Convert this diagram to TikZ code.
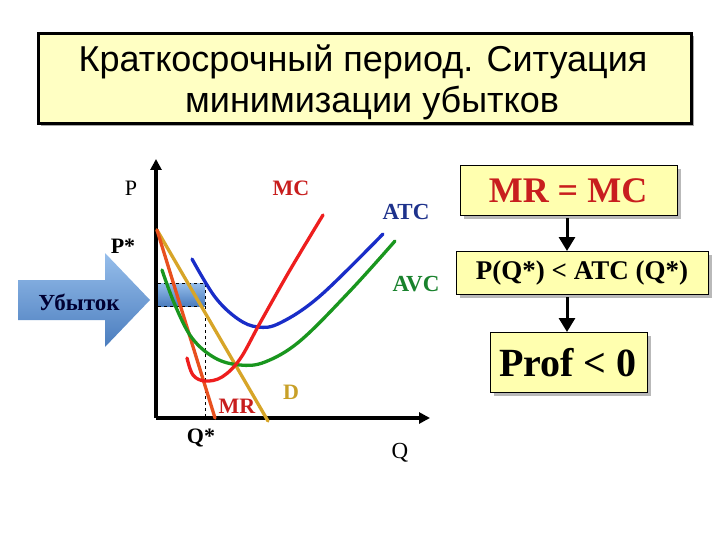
\documentclass[tikz,border=0pt]{standalone}
\usepackage{fontspec}
\setmainfont{Liberation Serif}
\newfontfamily\titlefont{Liberation Sans}
\usetikzlibrary{arrows.meta,calc}
\definecolor{boxyellow}{RGB}{255,255,175}
\definecolor{titleyellow}{RGB}{255,255,195}
\definecolor{dcol}{RGB}{215,165,40}
\definecolor{mrcol}{RGB}{232,80,30}
\definecolor{mccol}{RGB}{238,30,30}
\definecolor{atccol}{RGB}{25,45,200}
\definecolor{avccol}{RGB}{25,150,30}
\definecolor{mclab}{RGB}{200,30,30}
\definecolor{atclab}{RGB}{30,50,140}
\definecolor{avclab}{RGB}{25,130,45}
\definecolor{dlab}{RGB}{200,160,40}
\definecolor{arrlight}{RGB}{150,190,235}
\definecolor{arrdark}{RGB}{75,125,190}
\tikzset{
  fbox/.style={draw=black, line width=0.8pt, fill=boxyellow, inner sep=0pt, anchor=north west},
  curve/.style={line width=3.3pt, line cap=round},
  lab/.style={inner sep=0pt, font=\fontsize{22}{24}\selectfont},
  blab/.style={inner sep=0pt, font=\fontsize{22}{24}\selectfont\bfseries},
  flowarrow/.style={line width=3pt, -{Triangle[length=14pt,width=16pt]}},
  axis/.style={line width=4pt, -{Triangle[length=11pt,width=11pt]}},
}
\begin{document}
\begin{tikzpicture}[x=1pt,y=-1pt]
\useasboundingbox (0,0) rectangle (720,540);
\fill[white] (0,0) rectangle (720,540);
% title
\fill[gray!70] (41,36) rectangle (694,126);
\node[draw=black, line width=3pt, fill=titleyellow, minimum width=653pt, minimum height=90pt, anchor=north west, inner sep=0pt] (title) at (37,32) {};
\node[inner sep=0pt, font=\titlefont\fontsize{36}{40}\selectfont] (t1) at (363,62) {Краткосрочный период. Ситуация};
\node[inner sep=0pt, font=\titlefont\fontsize{36}{40}\selectfont] (t2) at (372,103) {минимизации убытков};
% loss arrow
\path[top color=arrlight, bottom color=arrdark] (18,280) -- (105,280) -- (105,253) -- (150,300) -- (105,347) -- (105,320) -- (18,320) -- cycle;
\node[inner sep=0pt, font=\fontsize{23}{24}\selectfont\bfseries, text=black!80!blue] (ubytok) at (79,302) {Убыток};
% loss rectangle
\path[top color=arrlight, bottom color=arrdark] (157,283) rectangle (205,306);
\draw[dashed, line width=0.7pt] (157,283) rectangle (205,306);
\coordinate (qtop) at (205,306);
\coordinate (qbot) at (205,418);
\draw[dashed, line width=0.7pt] (qtop) -- (qbot);
% axes
\coordinate (origin) at (156,418);
\coordinate (ytop) at (156,159);
\coordinate (xend) at (430,418);
\draw[axis] (origin) -- (ytop);
\draw[axis] (origin) -- (xend);
% curves
\coordinate (dstart) at (157,230);
\coordinate (dend) at (268,421);
\coordinate (mrend) at (215,418);
\draw[curve, dcol] (dstart) -- (dend);
\draw[curve, mrcol] (dstart) -- (mrend);
\draw[curve, avccol] plot[smooth, tension=0.6] coordinates {(162,270) (175,305) (192,338) (215,358) (240,365) (265,362) (300,341) (350,291) (395,241)};
\draw[curve, atccol] plot[smooth, tension=0.6] coordinates {(192,259) (215,297) (238,319) (258,327) (280,323) (320,296) (383,234)};
\draw[curve, mccol] plot[smooth, tension=0.6] coordinates {(187,358) (193,375) (205,381) (222,377) (240,359) (260,323) (290,270) (323,215)};
% labels
\node[lab] (plab) at (131,188) {P};
\node[blab, text=mclab] (mclabel) at (291,188) {MC};
\node[blab, text=atclab, font=\fontsize{23}{24}\selectfont\bfseries] (atclabel) at (406,212) {ATC};
\node[blab, text=avclab, font=\fontsize{23}{24}\selectfont\bfseries] (avclabel) at (416,284) {AVC};
\node[blab] (pstar) at (123,246) {P*};
\node[blab] (qstar) at (201,438) {Q*};
\node[lab, font=\fontsize{23}{24}\selectfont] (qlab) at (400,453) {Q};
\node[blab, text=dlab] (dlabel) at (291,392) {D};
\node[blab, text=mclab] (mrlabel) at (237,406) {MR};
% right boxes
\fill[gray!55] (464,169) rectangle (681,219);
\node[fbox, minimum width=217pt, minimum height=50pt] (box1) at (460,165) {};
\node[inner sep=0pt, text=mclab, font=\fontsize{36}{40}\selectfont\bfseries] (t_mrmc) at (568,191) {MR = MC};
\fill[gray!55] (460,255) rectangle (712,298);
\node[fbox, minimum width=252pt, minimum height=43pt] (box2) at (456,251) {};
\node[inner sep=0pt, font=\fontsize{27}{30}\selectfont\bfseries] (t_pq) at (582,273) {P(Q*) < ATC (Q*)};
\fill[gray!55] (494,336) rectangle (651,396);
\node[fbox, minimum width=157pt, minimum height=60pt] (box3) at (490,332) {};
\node[inner sep=0pt, font=\fontsize{40}{44}\selectfont\bfseries] (t_prof) at (568,363) {Prof < 0};
\draw[flowarrow] (567,218) -- (box2.north -| 567,0);
\draw[flowarrow] (567,297) -- (box3.north -| 567,0);
\end{tikzpicture}
\end{document}
